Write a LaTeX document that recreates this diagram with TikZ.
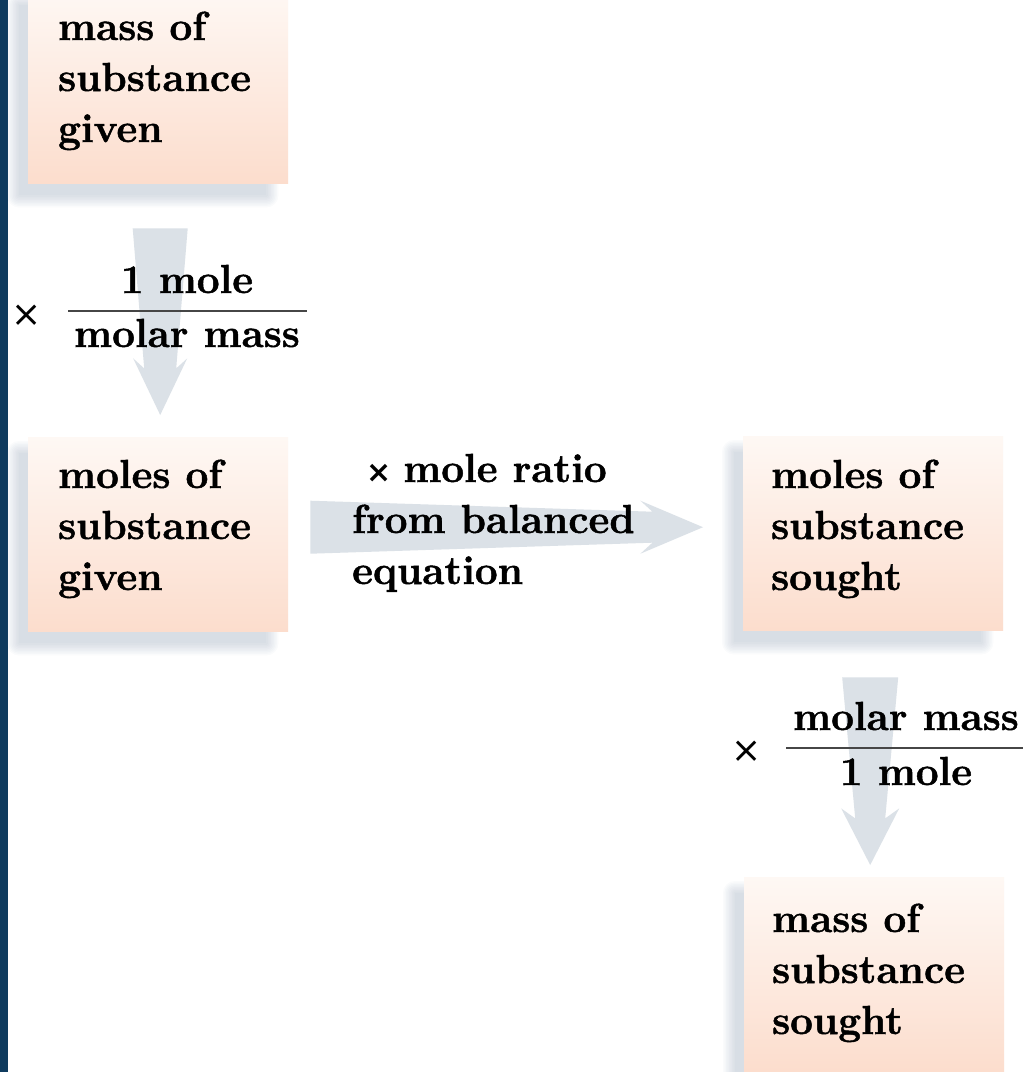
\documentclass[tikz,border=0pt]{standalone}
\usepackage{fontspec}
\setmainfont{Latin Modern Roman}[BoldFeatures={FakeBold=1.2}]
\newfontfamily\crossfont{DejaVu Sans}
\usetikzlibrary{calc}

\definecolor{navy}{RGB}{15,59,94}
\definecolor{boxtop}{RGB}{254,248,244}
\definecolor{boxbot}{RGB}{252,221,205}
\definecolor{arrowc}{RGB}{219,225,231}
\definecolor{shadowc}{RGB}{140,158,180}
\definecolor{rulec}{RGB}{70,70,70}

\pgfdeclarelayer{bg}
\pgfsetlayers{bg,main}

% three left-aligned lines with a fixed baseline distance; baseline = first line
\newcommand\textlines[4]{\vtop{\baselineskip=#1\lineskiplimit=-100pt\lineskip=0pt
  \hbox{#2}\hbox{#3}\hbox{#4}}}

% soft shadow behind a box, shifted left and down
\newcommand\boxshadow[1]{%
  \foreach \e in {0,1.5,3,4.5,6,7.5,9,10.5,12}{%
    \fill[shadowc, opacity=0.04, rounded corners=\e pt]
      ($(#1.north west)+(-9-\e,16-\e)$) rectangle ($(#1.south east)+(-22+\e,12+\e)$);}}

% tapered block arrow: start, tip, tail half width, neck distance, neck half width,
% wing distance, wing half width
\newcommand\fatarrow[7]{%
  \fill[arrowc] ($(#1)!#3!90:(#2)$)
    -- ($($(#1)!#4!(#2)$)!#5!90:(#2)$)
    -- ($($(#1)!#6!(#2)$)!#7!90:(#2)$)
    -- (#2)
    -- ($($(#1)!#6!(#2)$)!#7!-90:(#2)$)
    -- ($($(#1)!#4!(#2)$)!#5!-90:(#2)$)
    -- ($(#1)!#3!-90:(#2)$) -- cycle;}

\tikzset{
  every node/.style={font=\fontsize{40.5}{51}\selectfont\bfseries, text=black, inner sep=0pt},
  boxshape/.style={rectangle, anchor=north west, minimum width=260pt, minimum height=194pt,
    top color=boxtop, bottom color=boxbot, draw=none},
  boxtext/.style={anchor=base west},
  fracrule/.style={draw=rulec, line width=2.2pt},
  crosssign/.style={font=\fontsize{36}{40}\crossfont},
}

\begin{document}
\begin{tikzpicture}[x=1pt, y=-1pt]
  \useasboundingbox (0,0) rectangle (1026,1072);

  % quantity boxes
  \node[boxshape] (b1) at (28,-11) {};
  \node[boxshape] (b2) at (28,437) {};
  \node[boxshape] (b3) at (743,436) {};
  \node[boxshape] (b4) at (744,877) {};

  \begin{pgfonlayer}{bg}
    \fill[white] (0,0) rectangle (1026,1072);
    \fill[navy] (0,0) rectangle (8,1072);
    \boxshadow{b1}
    \boxshadow{b2}
    \boxshadow{b3}
    \boxshadow{b4}
  \end{pgfonlayer}

  % conversion arrows
  \coordinate (aAs) at ($(b1.south)+(2,45)$);
  \coordinate (aAt) at ($(b2.north)+(2,-22)$);
  \fatarrow{aAs}{aAt}{27.5pt}{140pt}{16pt}{130pt}{27pt}

  \coordinate (aBs) at ($(b2.east)+(22,-7)$);
  \coordinate (aBt) at ($(b3.west)+(-40,-6)$);
  \fatarrow{aBs}{aBt}{26.5pt}{342pt}{15.5pt}{330pt}{26.5pt}

  \coordinate (aCs) at ($(b3.south)+(-3,47)$);
  \coordinate (aCt) at ($(b4.north)+(-4,-12)$);
  \fatarrow{aCs}{aCt}{28pt}{141pt}{15pt}{131pt}{29pt}

  % box labels
  \node[boxtext] (t1) at ($(b1.north west)+(30,51)$) {\textlines{51pt}{mass of}{substance}{given}};
  \node[boxtext] (t2) at ($(b2.north west)+(30,51)$) {\textlines{51pt}{moles of}{substance}{given}};
  \node[boxtext] (t3) at ($(b3.north west)+(28,52)$) {\textlines{51pt}{moles of}{substance}{sought}};
  \node[boxtext] (t4) at ($(b4.north west)+(28,55)$) {\textlines{51pt}{mass of}{substance}{sought}};

  % step 1: divide by molar mass
  \node[crosssign] (x1) at (27,316) {×};
  \node[anchor=base] (n1) at (187,293) {1 mole};
  \node[anchor=base] (d1) at (187,347) {molar mass};
  \draw[fracrule] (68,311) -- (307,311);

  % step 2: mole ratio
  \node[boxtext] (lab) at (352,482)
    {\textlines{51pt}{\hskip14pt{\crossfont\fontsize{30}{30}\selectfont ×}\hskip12pt mole ratio}{from balanced}{equation}};

  % step 3: multiply by molar mass
  \node[crosssign] (x2) at (747,752) {×};
  \node[anchor=base] (n2) at (906,730) {molar mass};
  \node[anchor=base] (d2) at (906,785) {1 mole};
  \draw[fracrule] (786,748) -- (1023,748);
\end{tikzpicture}
\end{document}
